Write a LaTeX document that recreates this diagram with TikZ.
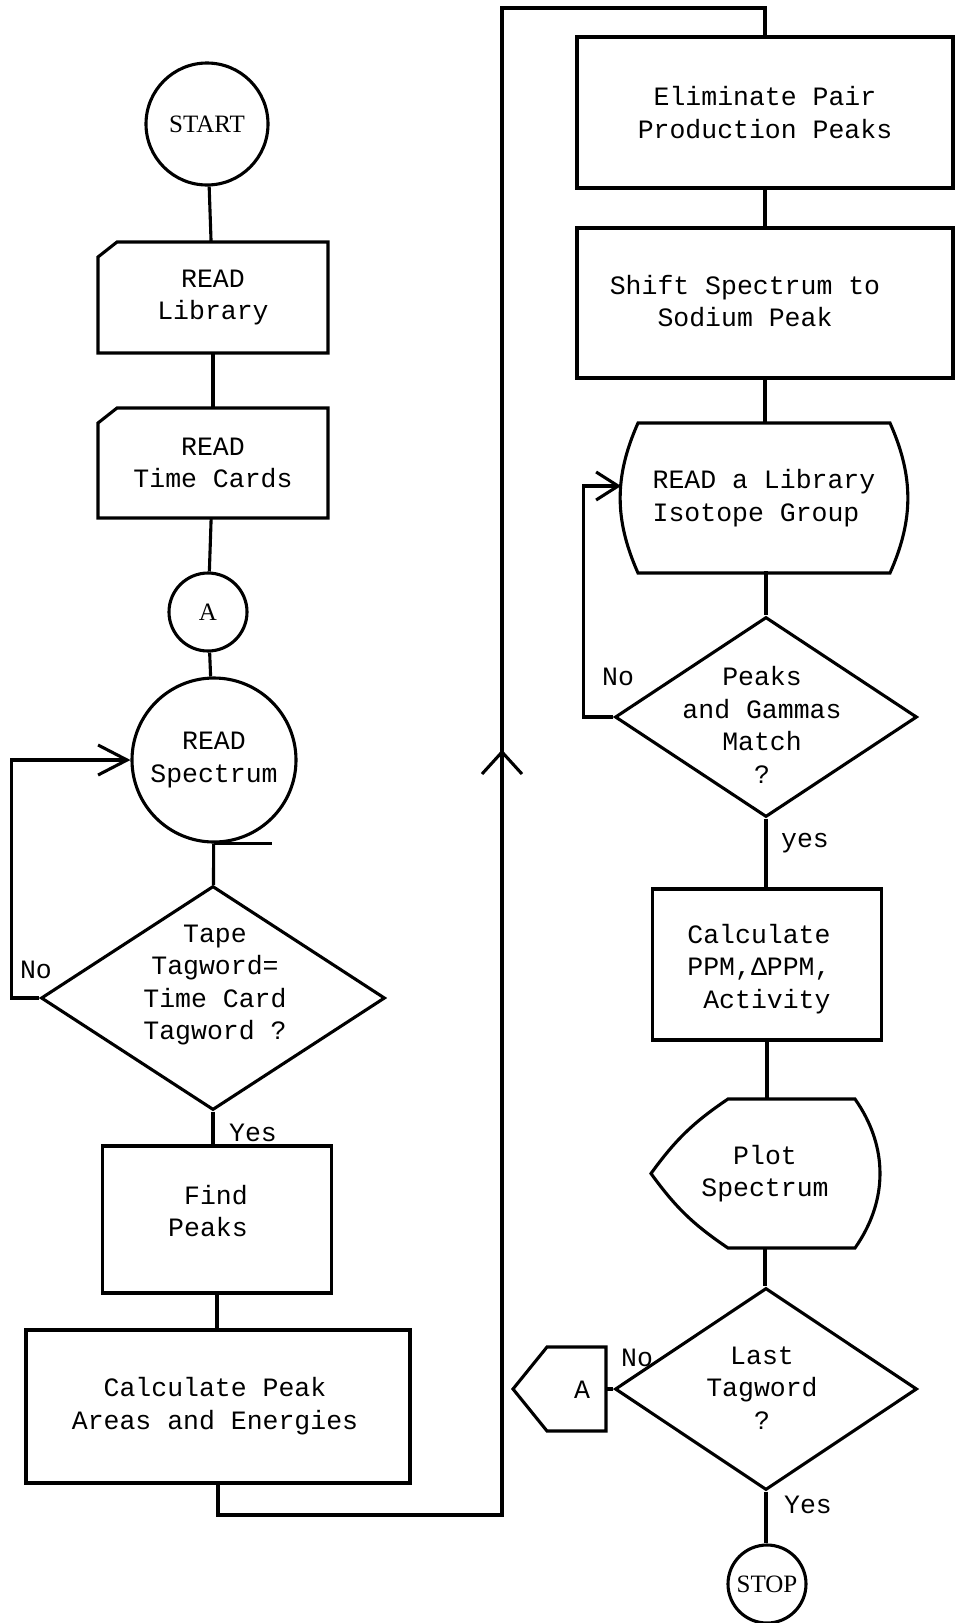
\documentclass[tikz,border=0pt]{standalone}
\usepackage{fontspec}
\newfontfamily\tw{Liberation Mono}
\newfontfamily\rom{Liberation Serif}
\usetikzlibrary{arrows.meta,shapes.geometric}
\begin{document}
\begin{tikzpicture}[x=1pt,y=-1pt,line width=3.1pt,
  every node/.style={font=\tw\fontsize{26.5}{32.5}\selectfont,inner sep=0pt,align=center},
  blk/.style={draw,rectangle},
  shp/.style={rectangle,outer sep=0pt},
  dia/.style={draw,diamond,aspect=1,inner sep=0pt},
  circ/.style={draw,circle,font=\rom\fontsize{25}{30}\selectfont},
  barbA/.style={-{Straight Barb[length=29pt,width=30pt]}},
  barbB/.style={-{Straight Barb[length=22pt,width=28pt]}}]
\path[use as bounding box,fill=white] (0,0) rectangle (954,1623);

% ---------- left column ----------
\node[circ,minimum size=122pt] (start) at (207,124) {START};
\node[shp,minimum width=230pt,minimum height=111pt] (lib) at (213,297.5) {READ\\Library};
\draw (lib.south west) -- (lib.south east) -- (lib.north east) -- ([xshift=19pt]lib.north west) -- ([yshift=-15pt]lib.north west) -- cycle;
\node[shp,minimum width=230pt,minimum height=110pt] (time) at (213,463) {READ\\Time Cards};
\draw (time.south west) -- (time.south east) -- (time.north east) -- ([xshift=19pt]time.north west) -- ([yshift=-15pt]time.north west) -- cycle;
\node[circ,minimum size=78pt] (A1) at (208,612) {A};
\node[circ,minimum size=164pt,font=\tw\fontsize{26.5}{32.5}\selectfont] (spec) at (214,760) {READ\\Spectrum};
\node[dia,minimum width=344pt,minimum height=224pt] (d1) at (213,998) {};
\node (d1t) at (215,985) {Tape\\Tagword=\\Time Card\\Tagword ?};
\node[blk,minimum width=229pt,minimum height=147pt] (find) at (217,1219.5) {};
\node[align=right] (findt) at (208,1211) {Find\\Peaks};
\node[blk,minimum width=384pt,minimum height=153pt] (calcpk) at (218,1406.5) {};
\node (calcpkt) at (215,1406) {Calculate Peak\\Areas and Energies};

\node (no1) at (36,970) {No};
\node (yes1) at (253,1133) {Yes};

\draw (start) -- (lib);
\draw (lib) -- (time);
\draw (time) -- (A1);
\draw (A1) -- (spec);
\draw (spec) -- (d1);
\draw (spec.south) -- ++(58,0);
\draw[barbA] (d1.west) -- ++(-28,0) |- (spec.west);
\draw (d1.south) -- (d1.south |- find.north);
\draw (find.south) -- (find.south |- calcpk.north);

% ---------- right column ----------
\node[blk,minimum width=376pt,minimum height=151pt] (elim) at (765,112.5) {Eliminate Pair\\Production Peaks};
\node[blk,minimum width=376pt,minimum height=150pt] (shift) at (765,303) {};
\node (shiftt) at (745,301) {Shift Spectrum to\\Sodium Peak};
\node[shp,minimum width=252pt,minimum height=150pt,align=left] (iso) at (764,498) {READ a Library\\Isotope Group};
\draw (iso.north west) -- (iso.north east) to[bend left=24] (iso.south east) -- (iso.south west) to[bend left=24] (iso.north west) -- cycle;
\coordinate (isoin) at ([xshift=-17pt,yshift=12pt]iso.west);
\node[dia,minimum width=302pt,minimum height=200pt] (d2) at (766,717) {};
\node (d2t) at (762,725) {Peaks\\and Gammas\\Match\\?};
\node[blk,minimum width=229pt,minimum height=151pt] (ppm) at (767,964.5) {};
\node[align=right] (ppmt) at (759,969) {Calculate\\PPM,ΔPPM,\\Activity};
\node[shp,minimum width=228pt,minimum height=149pt] (plot) at (765,1173.5) {Plot\\Spectrum};
\coordinate (p1) at ([xshift=77pt]plot.north west);
\coordinate (p2) at ([xshift=-24pt]plot.north east);
\coordinate (p3) at ([xshift=-24pt]plot.south east);
\coordinate (p4) at ([xshift=77pt]plot.south west);
\draw (plot.west) to[bend left=10] (p1) -- (p2) to[bend left=35] (p3) -- (p4) to[bend left=10] (plot.west) -- cycle;
\node[dia,minimum width=302pt,minimum height=202pt] (d3) at (766,1389) {};
\node (d3t) at (762,1388) {Last\\Tagword\\?};
\node[shp,minimum width=59pt,minimum height=84pt] (offA) at (576.5,1389) {};
\draw (offA.north east) -- (offA.north west) -- ([xshift=-34pt]offA.west) -- (offA.south west) -- (offA.south east) -- cycle;
\node (offAt) at (582,1390) {A};
\node[circ,minimum size=78pt] (stop) at (767,1584) {STOP};

\node (no2) at (618,677) {No};
\node (yes2) at (805,843) {yes};
\node (no3) at (637,1358) {No};
\node (yes3) at (808,1505) {Yes};

\draw (elim) -- (shift);
\draw (shift.south) -- (shift.south |- iso.north);
\draw (iso.south) -- (iso.south -| d2.north) -- (d2.north);
\draw (d2.south) -- (d2.south |- ppm.north);
\draw (ppm.south) -- (ppm.south |- plot.north);
\draw (plot.south) -- (plot.south |- d3.north);
\draw (d3.south) -- (d3.south |- stop.north);
\draw (d3.west) -- (offA.east);
\draw[barbB] (d2.west) -- ++(-30,0) |- (isoin);

% ---------- long connector ----------
\coordinate (b2) at (502,1515);
\coordinate (t1) at (502,8);
\draw (calcpk.south) |- (b2) -- (t1) -| (elim.north);
\coordinate (upar) at (502,752);
\draw (upar) ++(-20,22) -- (upar) -- ++(20,22);
\end{tikzpicture}
\end{document}
